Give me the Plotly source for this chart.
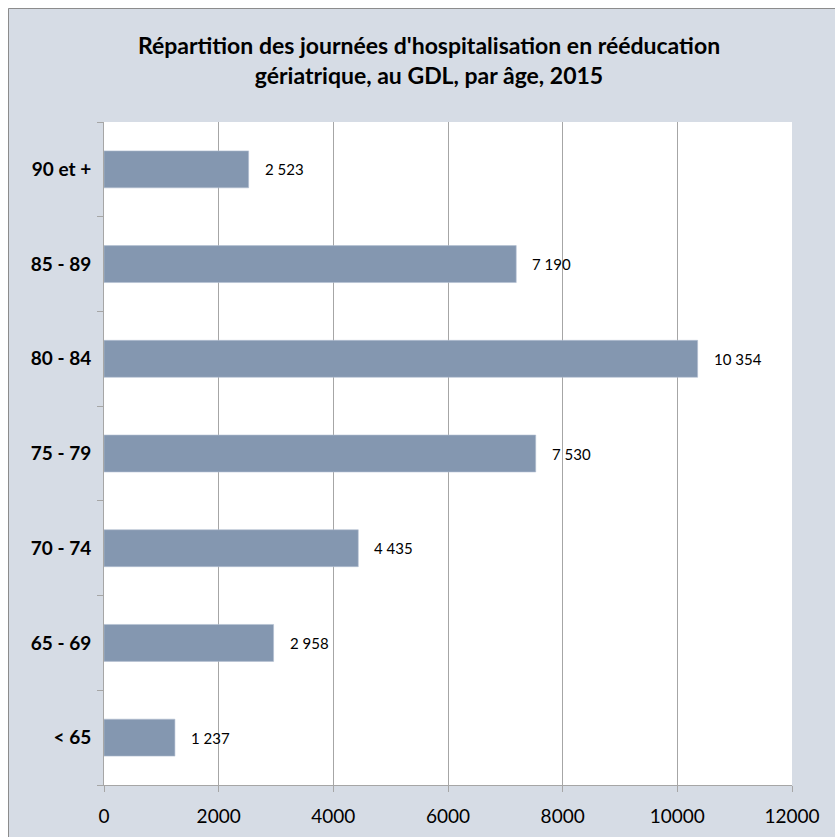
import plotly.graph_objects as go

# Hospital days in geriatric rehabilitation by age group (GDL, 2015)
age_groups = ["< 65", "65 - 69", "70 - 74", "75 - 79", "80 - 84", "85 - 89", "90 et +"]
days = [1237, 2958, 4435, 7530, 10354, 7190, 2523]
x_ticks = [0, 2000, 4000, 6000, 8000, 10000, 12000]

title_text = ("Répartition des journées d'hospitalisation en rééducation<br>"
              "gériatrique, au GDL, par âge, 2015")

W, H = 835, 837
L, R, T, B = 104, 792, 122, 785  # plot area in pixels

def px_x(p):
    return (p - L) / (R - L)

def px_y(p):
    return (B - p) / (B - T)

FONT = "Lato, 'Open Sans', sans-serif"
BG = "#D6DCE5"
BAR = "#8497B0"
GRID = "#A6A6A6"

fig = go.Figure(
    go.Bar(
        x=days,
        y=age_groups,
        orientation="h",
        marker=dict(color=BAR, line=dict(color="#B4C0D2", width=0.6)),
        hoverinfo="x+y",
    )
)

# value labels to the right of each bar
for cat, v in zip(age_groups, days):
    fig.add_annotation(
        x=v, y=cat, xref="x", yref="y",
        text=f"{v:,}".replace(",", " "),
        showarrow=False, xanchor="left", yanchor="middle", xshift=14,
        font=dict(family=FONT, size=15, color="#000000"),
    )

# white margin strips and chart-area border
fig.add_shape(type="rect", xref="paper", yref="paper",
              x0=px_x(-10), x1=px_x(8), y0=px_y(H + 10), y1=px_y(-10),
              fillcolor="white", line=dict(width=0), layer="below")
fig.add_shape(type="rect", xref="paper", yref="paper",
              x0=px_x(-10), x1=px_x(W + 10), y0=px_y(8), y1=px_y(-10),
              fillcolor="white", line=dict(width=0), layer="below")
fig.add_shape(type="line", xref="paper", yref="paper",
              x0=px_x(8.5), x1=px_x(8.5), y0=px_y(8.5), y1=px_y(H + 10),
              line=dict(color="#8C8C8C", width=1), layer="below")
fig.add_shape(type="line", xref="paper", yref="paper",
              x0=px_x(8.5), x1=px_x(W + 10), y0=px_y(8.5), y1=px_y(8.5),
              line=dict(color="#8C8C8C", width=1), layer="below")

fig.update_layout(
    width=W, height=H,
    margin=dict(l=L, r=W - R, t=T, b=H - B, pad=0, autoexpand=False),
    paper_bgcolor=BG,
    plot_bgcolor="white",
    bargap=0.61,
    showlegend=False,
    title=dict(
        text=title_text,
        x=px_x(429), xref="paper", xanchor="center",
        y=1 - 54 / H, yref="container", yanchor="middle",
        font=dict(family=FONT, size=23, color="#000000", weight="bold"),
    ),
    xaxis=dict(
        range=[0, 12000],
        tickvals=x_ticks,
        ticktext=[str(t) for t in x_ticks],
        showgrid=True, gridcolor=GRID, gridwidth=1,
        zeroline=False,
        showline=True, linecolor=GRID, linewidth=1,
        ticks="outside", ticklen=6, tickcolor=GRID, tickwidth=1,
        ticklabelstandoff=8,
        tickfont=dict(family=FONT, size=19, color="#000000"),
        automargin=False,
        fixedrange=True,
    ),
    yaxis=dict(
        categoryorder="array", categoryarray=age_groups,
        showgrid=False, zeroline=False,
        showline=True, linecolor=GRID, linewidth=1,
        ticks="outside", ticklen=6, tickcolor=GRID, tickwidth=1,
        tickson="boundaries",
        ticklabelstandoff=8,
        tickfont=dict(family=FONT, size=19, color="#000000", weight="bold"),
        automargin=False,
        fixedrange=True,
    ),
)

fig.write_html("out.html")
